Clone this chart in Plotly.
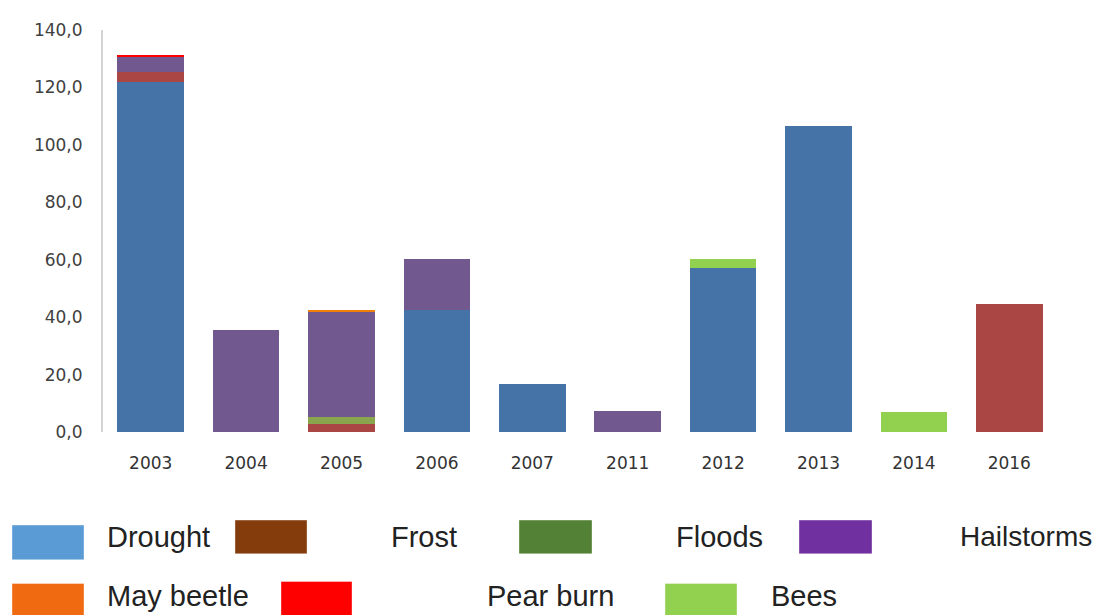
import plotly.graph_objects as go

# ---------------- data ----------------
years = ["2003", "2004", "2005", "2006", "2007", "2011", "2012", "2013", "2014", "2016"]
drought    = [122.0, 0, 0, 42.6, 16.6, 0, 57.0, 106.5, 0, 0]
frost      = [3.4, 0, 2.9, 0, 0, 0, 0, 0, 0, 44.5]
floods     = [0, 0, 2.2, 0, 0, 0, 0, 0, 0, 0]
hailstorms = [5.2, 35.5, 36.6, 17.8, 0, 7.2, 0, 0, 0, 0]
may_beetle = [0, 0, 0.7, 0, 0, 0, 0, 0, 0, 0]
pear_burn  = [0.6, 0, 0, 0, 0, 0, 0, 0, 0, 0]
bees       = [0, 0, 0, 0, 0, 0, 3.4, 0, 6.9, 0]

series_names = ["Drought", "Frost", "Floods", "Hailstorms", "May beetle", "Pear burn", "Bees"]
series_values = [drought, frost, floods, hailstorms, may_beetle, pear_burn, bees]
y_tick_values = [0, 20, 40, 60, 80, 100, 120, 140]

# ---------------- styles ----------------
bar_colors = ["#4572A7", "#AA4643", "#89A54E", "#71588F", "#F07F09", "#FF0000", "#92D050"]
legend_colors = ["#5B9BD5", "#843C0C", "#538135", "#7030A0", "#F06A12", "#FF0000", "#92D050"]

OFF = 8  # page body margin in the browser
W, H = 1101 - OFF, 615 - OFF
# plot area in reference-pixel coordinates
PL, PR, PT, PB = 103, 1057, 26, 432
pl, pr, pt, pb = PL - OFF, PR - OFF, PT - OFF, PB - OFF

fig = go.Figure()
for name, vals, col in zip(series_names, series_values, bar_colors):
    fig.add_trace(go.Bar(
        x=years, y=vals, name=name,
        marker=dict(color=col, line=dict(width=0)),
        showlegend=False,
    ))

def px_x(p):
    return (p - PL) / (PR - PL)

def px_y(p):
    return (PB - p) / (PB - PT)

# legend layout (reference pixel boxes: x0, x1, y0, y1, text x, text center y, font size)
legend_layout = [
    (12, 84, 526, 561, 106, 538, 29),
    (235, 307, 521, 555, 390, 538, 29),
    (519, 592, 521, 555, 675, 538, 29),
    (799, 872, 521, 555, 959, 538, 28),
    (12, 84, 585, 620, 106, 598, 29),
    (281, 352, 583, 620, 486, 598, 29),
    (665, 737, 585, 620, 770, 598, 29),
]

shapes = []
annotations = []
for name, col, (x0, x1, y0, y1, tx, ty, fs) in zip(series_names, legend_colors, legend_layout):
    shapes.append(dict(
        type="rect", xref="paper", yref="paper",
        x0=px_x(x0), x1=px_x(x1), y0=px_y(y1), y1=px_y(y0),
        fillcolor=col, line=dict(width=0.6, color="rgba(255,255,255,0.6)"), layer="above",
    ))
    annotations.append(dict(
        xref="paper", yref="paper", x=px_x(tx), y=px_y(ty),
        xanchor="left", yanchor="middle", showarrow=False, borderpad=0,
        text=name, font=dict(family="Liberation Sans, Arial, sans-serif", size=fs, color="#222222"),
    ))

fig.update_layout(
    width=W, height=H, autosize=False,
    margin=dict(l=pl, r=W - pr, t=pt, b=H - pb, pad=0),
    barmode="stack", bargap=0.30,
    paper_bgcolor="white", plot_bgcolor="white",
    separators=", ",
    shapes=shapes, annotations=annotations,
    showlegend=False,
)
fig.update_xaxes(
    type="category", showgrid=False, showline=False, zeroline=False,
    ticks="", ticklabelstandoff=19,
    tickfont=dict(family="DejaVu Sans, sans-serif", size=17, color="#333333"),
)
fig.update_yaxes(
    range=[0, 140], tickvals=y_tick_values, tickformat=".1f",
    showgrid=False, zeroline=False,
    showline=True, linecolor="#D4D4D4", linewidth=2,
    ticks="", ticklabelstandoff=15,
    tickfont=dict(family="DejaVu Sans, sans-serif", size=17, color="#404040"),
)

fig.write_html("out.html")
